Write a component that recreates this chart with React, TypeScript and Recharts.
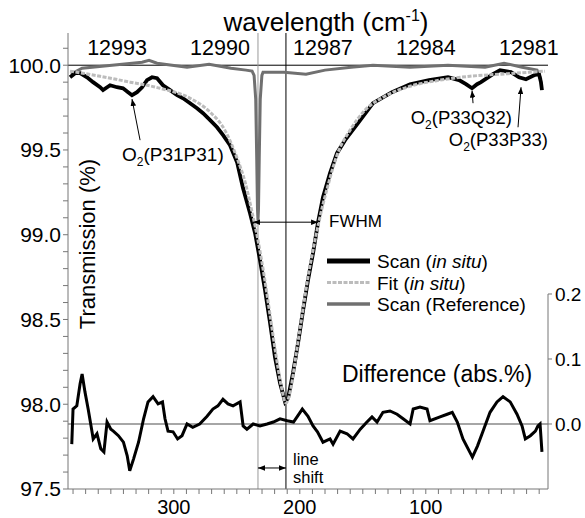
import React from 'react';
import { LineChart, Line, XAxis, YAxis, ReferenceLine, Legend } from 'recharts';

const FONT = '"Liberation Sans", Arial, Helvetica, sans-serif';

// In situ scan: position (points) / transmission (%)
const scanX = [382.4, 378.4, 374.4, 368.9, 364.1, 358.5, 356.2, 350.6, 345.1, 340.3, 336.3, 333.2, 329.2, 325.2, 321.3, 317.3, 313.3, 308.6, 303.0, 297.4, 292.7, 287.1, 281.6, 276.8, 271.2, 265.7, 260.9, 255.4, 249.8, 245.1, 239.5, 235.5, 231.6, 227.6, 223.6, 219.7, 215.7, 211.7, 209.3, 205.4, 201.4, 197.4, 193.5, 189.5, 185.5, 181.6, 176.0, 170.5, 164.1, 153.8, 141.9, 126.8, 112.5, 97.4, 82.4, 73.6, 68.1, 63.3, 59.3, 56.2, 46.7, 41.1, 32.4, 26.0, 20.5, 14.1, 10.1, 8.6, 7.8];
const scanY = [99.929, 99.953, 99.953, 99.929, 99.9, 99.87, 99.853, 99.882, 99.87, 99.864, 99.841, 99.823, 99.841, 99.87, 99.912, 99.929, 99.923, 99.882, 99.853, 99.823, 99.805, 99.776, 99.746, 99.717, 99.676, 99.634, 99.587, 99.528, 99.428, 99.275, 99.127, 99.009, 98.85, 98.673, 98.479, 98.278, 98.125, 98.013, 98.037, 98.184, 98.361, 98.555, 98.732, 98.892, 99.074, 99.222, 99.363, 99.481, 99.558, 99.658, 99.776, 99.841, 99.888, 99.912, 99.929, 99.912, 99.888, 99.864, 99.888, 99.9, 99.947, 99.971, 99.959, 99.929, 99.917, 99.941, 99.947, 99.9, 99.853];

// Fit of the in situ scan
const fitX = [382.4, 358.5, 334.7, 310.9, 287.1, 271.2, 259.5, 249.8, 243.2, 237.9, 233.2, 228.4, 223.6, 218.9, 214.9, 211.0, 207.0, 203.0, 198.2, 193.5, 188.7, 184.0, 177.6, 170.5, 160.1, 148.2, 132.4, 112.5, 88.7, 64.9, 41.1, 17.3, 5.4];
const fitY = [99.965, 99.935, 99.9, 99.864, 99.805, 99.723, 99.617, 99.452, 99.304, 99.133, 98.968, 98.762, 98.526, 98.29, 98.113, 98.007, 98.096, 98.29, 98.526, 98.75, 98.939, 99.104, 99.292, 99.469, 99.617, 99.735, 99.817, 99.876, 99.912, 99.935, 99.947, 99.959, 99.965];

// Reference cell scan
const refX = [381.6, 372.8, 349.0, 325.2, 319.7, 313.3, 289.5, 272.0, 254.6, 242.7, 237.9, 236.3, 235.0, 234.2, 233.6, 233.2, 232.8, 232.2, 231.4, 230.1, 229.2, 212.5, 195.1, 180.0, 159.3, 141.9, 112.5, 82.4, 53.0, 37.9, 23.6, 11.7, 8.6];
const refY = [99.947, 99.982, 100.0, 100.018, 100.029, 100.012, 99.988, 100.006, 99.982, 99.971, 99.965, 99.94, 99.8, 99.45, 99.15, 99.086, 99.15, 99.45, 99.8, 99.94, 99.959, 99.959, 99.947, 99.971, 99.988, 100.0, 99.988, 100.0, 99.988, 100.012, 99.988, 99.971, 99.917];

// Difference scan - fit (abs. %)
const diffX = [381, 380, 377, 374.4, 372.8, 370.5, 368, 365, 364, 361, 358, 355.5, 353, 350, 348, 344, 340, 337, 335, 332, 328, 324, 320.5, 316.5, 312.5, 309, 307, 304.6, 300.6, 297, 293.5, 289.5, 285, 279.5, 273.6, 269, 265, 261, 257, 253, 247.4, 245, 242, 237, 231.6, 226, 221, 215.7, 210, 205, 198, 193.5, 189.5, 186, 181.6, 176, 173.6, 168, 162.5, 157.8, 152, 146.7, 142.7, 138.7, 134, 128.4, 122.8, 118, 112.5, 110, 104.6, 99, 96.7, 88.7, 83, 79, 75, 70.5, 63, 59, 54.6, 49, 43.5, 38.7, 33, 27.6, 23.6, 21, 17, 13, 11, 9.3, 7.8];
const diffY = [-0.031, 0.023, 0.028, 0.062, 0.077, 0.049, 0.023, -0.011, -0.023, -0.015, -0.038, -0.043, 0.003, -0.008, -0.011, -0.018, -0.028, -0.049, -0.072, -0.054, -0.028, 0.008, 0.034, 0.042, 0.031, 0.034, 0.008, -0.011, -0.012, -0.023, -0.018, 0, -0.005, 0, 0.012, 0.023, 0.028, 0.038, 0.031, 0.028, 0.034, -0.003, -0.008, 0, -0.003, 0, 0.003, 0.008, 0.005, 0.003, 0.023, 0.012, -0.003, -0.012, -0.028, -0.023, -0.031, -0.011, -0.015, -0.023, -0.008, 0.003, 0.011, 0.003, 0.018, 0.02, 0.015, 0.008, 0, 0.023, 0.026, 0.023, 0.005, 0.011, 0.015, 0.018, 0.003, -0.023, -0.051, -0.034, -0.011, 0.018, 0.034, 0.042, 0.034, 0.015, -0.003, -0.023, -0.018, -0.011, -0.003, 0, -0.043];

const transmissionTicks = [97.5, 97.6, 97.7, 97.8, 97.9, 98.0, 98.1, 98.2, 98.3, 98.4, 98.5, 98.6, 98.7, 98.8, 98.9, 99.0, 99.1, 99.2, 99.3, 99.4, 99.5, 99.6, 99.7, 99.8, 99.9, 100.0, 100.1];
const positionTicks = [10, 20, 30, 40, 50, 60, 70, 80, 90, 100, 110, 120, 130, 140, 150, 160, 170, 180, 190, 200, 210, 220, 230, 240, 250, 260, 270, 280, 290, 300, 310, 320, 330, 340, 350, 360, 370, 380];
const wavenumberTicks = [12993, 12990, 12987, 12984, 12981];
const differenceTicks = [0, 0.1, 0.2];

// line centres and annotation anchors (data units)
const refCentre = 233.2;
const scanCentre = 211;
const fwhmLevel = 99.074;
const fwhmEdges = [237.1, 185.5];
const shiftLevel = 97.624;
const o2Arrows = [
  [{ x: 326.8, y: 99.558 }, { x: 333.2, y: 99.8 }],
  [{ x: 62.5, y: 99.776 }, { x: 63.3, y: 99.85 }],
  [{ x: 26.8, y: 99.634 }, { x: 24.4, y: 99.87 }],
];

const toPoints = (xs: number[], ys: number[]) => xs.map((x, i) => ({ x, y: ys[i] }));
const scanData = toPoints(scanX, scanY);
const fitData = toPoints(fitX, fitY);
const refData = toPoints(refX, refY);
const diffData = toPoints(diffX, diffY);
// invisible carrier so the wavenumber axis has something bound to it
const wavenumberData = wavenumberTicks.map((w) => ({ x: w, y: 100 }));

const legendStyles: Record<string, { width: number; dash?: string; label: React.ReactNode }> = {
  'Scan (in situ)': { width: 5, label: <>Scan (<tspan fontStyle="italic">in situ</tspan>)</> },
  'Fit (in situ)': { width: 3, dash: '4 1.5', label: <>Fit (<tspan fontStyle="italic">in situ</tspan>)</> },
  'Scan (Reference)': { width: 3.5, label: 'Scan (Reference)' },
};
const legendOrder = ['Scan (in situ)', 'Fit (in situ)', 'Scan (Reference)'];

const arrowShape = (both: boolean) => (p: any) => (
  <line
    x1={p.x1}
    y1={p.y1}
    x2={p.x2}
    y2={p.y2}
    stroke="#000"
    strokeWidth={1}
    markerEnd="url(#arrowHead)"
    markerStart={both ? 'url(#arrowHead)' : undefined}
  />
);

const WavenumberTick = (props: any) => (
  <text x={props.x} y={55} textAnchor="middle" fontSize={21.5} fill="#000">
    {props.payload.value}
  </text>
);

const renderLegend = (props: any) => {
  const items = (props.payload || []).filter((p: any) => legendStyles[p.value]);
  items.sort((a: any, b: any) => legendOrder.indexOf(a.value) - legendOrder.indexOf(b.value));
  return (
    <svg width={240} height={66} style={{ fontFamily: FONT }}>
      {items.map((item: any, i: number) => {
        const s = legendStyles[item.value];
        const cy = 11 + i * 21.5;
        return (
          <g key={item.value}>
            <line x1={0} x2={43} y1={cy} y2={cy} stroke={item.color} strokeWidth={s.width} strokeDasharray={s.dash} />
            <text x={50} y={cy + 7} fontSize={19} fill="#000">{s.label}</text>
          </g>
        );
      })}
    </svg>
  );
};

const App: React.FC = () => {
  return (
    <div style={{ position: 'absolute', left: 0, top: 0, width: 585, height: 518, background: '#fff', fontFamily: FONT }}>
      <LineChart width={585} height={518} margin={{ top: 0, right: 0, bottom: 0, left: 0 }}>
        <XAxis
          dataKey="x"
          type="number"
          domain={[3, 384]}
          reversed
          allowDataOverflow
          ticks={positionTicks}
          interval={0}
          tickFormatter={(v: number) => (v % 100 === 0 ? String(v) : '')}
          tick={{ fill: '#000', fontSize: 20 }}
          tickSize={5}
          tickMargin={6}
          height={29}
          axisLine={{ stroke: '#777' }}
          tickLine={{ stroke: '#777' }}
        />
        <XAxis
          xAxisId="wn"
          dataKey="x"
          orientation="top"
          type="number"
          domain={[12980.44, 12994.43]}
          reversed
          allowDataOverflow
          ticks={wavenumberTicks}
          interval={0}
          height={33}
          axisLine={false}
          tickLine={false}
          tick={WavenumberTick}
        />
        <YAxis
          yAxisId="left"
          type="number"
          domain={[97.5, 100.19]}
          allowDataOverflow
          ticks={transmissionTicks}
          interval={0}
          tickFormatter={(v: number) => (Math.abs(v * 2 - Math.round(v * 2)) < 1e-6 ? v.toFixed(1) : '')}
          tick={{ fill: '#000', fontSize: 21 }}
          width={68}
          tickSize={5}
          tickMargin={2}
          axisLine={{ stroke: '#777' }}
          tickLine={{ stroke: '#777' }}
        />
        <YAxis
          yAxisId="diff"
          orientation="right"
          type="number"
          domain={[-0.1, 0.6015]}
          allowDataOverflow
          ticks={differenceTicks}
          interval={0}
          tickFormatter={(v: number) => v.toFixed(1)}
          tick={{ fill: '#000', fontSize: 19 }}
          width={37}
          tickSize={4}
          tickMargin={3}
          axisLine={false}
          tickLine={{ stroke: '#777' }}
        />

        {/* guide lines */}
        <ReferenceLine yAxisId="left" y={100} stroke="#000" strokeWidth={1} />
        <ReferenceLine yAxisId="diff" y={0} stroke="#888" strokeWidth={1.5} />
        <ReferenceLine yAxisId="left" x={refCentre} stroke="#9a9a9a" strokeWidth={1} />
        <ReferenceLine yAxisId="left" x={scanCentre} stroke="#000" strokeWidth={1} />
        <ReferenceLine
          yAxisId="diff"
          ifOverflow="visible"
          segment={[{ x: 3, y: -0.1 }, { x: 3, y: 0.2 }]}
          stroke="#777"
          strokeWidth={1}
        />

        {/* series */}
        <Line xAxisId="wn" yAxisId="left" data={wavenumberData} dataKey="y" name="wn" legendType="none" stroke="none" dot={false} activeDot={false} isAnimationActive={false} />
        <Line yAxisId="left" data={refData} dataKey="y" name="Scan (Reference)" type="linear" stroke="#707070" strokeWidth={3} dot={false} isAnimationActive={false} />
        <Line yAxisId="left" data={scanData} dataKey="y" name="Scan (in situ)" type="linear" stroke="#000" strokeWidth={3.8} dot={false} isAnimationActive={false} />
        <Line yAxisId="left" data={fitData} dataKey="y" name="Fit (in situ)" type="monotone" stroke="#bcbcbc" strokeWidth={3} strokeDasharray="4 1.5" dot={false} isAnimationActive={false} />
        <Line yAxisId="diff" data={diffData} dataKey="y" name="Difference" legendType="none" type="linear" stroke="#000" strokeWidth={3} dot={false} isAnimationActive={false} />

        {/* annotation arrows */}
        {o2Arrows.map((seg, i) => (
          <ReferenceLine key={i} yAxisId="left" ifOverflow="visible" segment={seg} shape={arrowShape(false)} />
        ))}
        <ReferenceLine
          yAxisId="left"
          ifOverflow="visible"
          segment={[{ x: fwhmEdges[0], y: fwhmLevel }, { x: fwhmEdges[1], y: fwhmLevel }]}
          shape={arrowShape(true)}
        />
        <ReferenceLine
          yAxisId="left"
          ifOverflow="visible"
          segment={[{ x: refCentre, y: shiftLevel }, { x: scanCentre, y: shiftLevel }]}
          shape={arrowShape(true)}
        />

        <Legend
          layout="vertical"
          align="center"
          verticalAlign="middle"
          content={renderLegend}
          wrapperStyle={{ left: 327, top: 250, width: 240, height: 66 }}
        />
      </LineChart>

      {/* titles and labels */}
      <svg
        width={585}
        height={518}
        style={{ position: 'absolute', left: 0, top: 0, pointerEvents: 'none', fontFamily: FONT }}
      >
        <defs>
          <marker
            id="arrowHead"
            viewBox="0 0 10 8"
            refX={10}
            refY={4}
            markerWidth={7}
            markerHeight={5.6}
            markerUnits="userSpaceOnUse"
            orient="auto-start-reverse"
          >
            <path d="M0,0 L10,4 L0,8 z" fill="#000" />
          </marker>
        </defs>
        <text x={326} y={31} textAnchor="middle" fontSize={26} fill="#000">
          wavelength (cm<tspan dy={-10} fontSize={16}>-1</tspan><tspan dy={10}>)</tspan>
        </text>
        <text x={95} y={244} transform="rotate(-90 95 244)" textAnchor="middle" fontSize={22} fill="#000">
          Transmission (%)
        </text>
        <text x={122} y={161} fontSize={19} fill="#000">
          O<tspan dy={5} fontSize={12}>2</tspan><tspan dy={-5}>(P31P31)</tspan>
        </text>
        <text x={512} y={124} textAnchor="end" fontSize={18.5} fill="#000">
          O<tspan dy={5} fontSize={12}>2</tspan><tspan dy={-5}>(P33Q32)</tspan>
        </text>
        <text x={548} y={146} textAnchor="end" fontSize={18.5} fill="#000">
          O<tspan dy={5} fontSize={12}>2</tspan><tspan dy={-5}>(P33P33)</tspan>
        </text>
        <text x={329} y={227} fontSize={17} fill="#000">FWHM</text>
        <text x={342} y={382} fontSize={23} fill="#000">Difference (abs.%)</text>
        <text x={293} y={465} fontSize={16.5} fill="#000">line</text>
        <text x={293} y={483} fontSize={16.5} fill="#000">shift</text>
      </svg>
    </div>
  );
};

export default App;
